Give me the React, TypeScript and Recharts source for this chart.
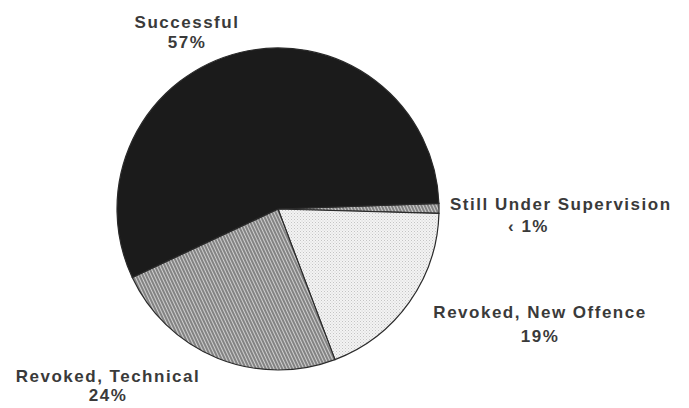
import { PieChart, Pie, Cell } from "recharts"

const categories = ["Still Under Supervision", "Revoked, New Offence", "Revoked, Technical", "Successful"]
const shares = [1, 19, 24, 57]
const shareLabels = ["‹ 1%", "19%", "24%", "57%"]

const fills = ["url(#hatch)", "url(#stipple)", "url(#hatch)", "#1b1b1b"]

// where each label sits, relative to the pie centre
const labelPos = [
  { x1: 172, y1: 1, x2: 230, y2: 23, anchor: "start" },
  { x1: 262, y1: 109, x2: 262, y2: 133, anchor: "middle" },
  { x1: -170, y1: 173, x2: -170, y2: 192, anchor: "middle" },
  { x1: -91, y1: -181, x2: -91, y2: -161, anchor: "middle" },
]

const data = categories.map((name, i) => ({ name, value: shares[i] }))

const renderLabel = (props: any) => {
  const { cx, cy, index } = props
  const p = labelPos[index]
  return (
    <text
      key={`lbl-${index}`}
      fill="#3a3a3a"
      fontFamily="'Liberation Sans', Arial, sans-serif"
      fontWeight="bold"
      fontSize={17}
      letterSpacing={1.5}
      textAnchor={p.anchor}
    >
      <tspan x={cx + p.x1} y={cy + p.y1}>{categories[index]}</tspan>
      <tspan x={cx + p.x2} y={cy + p.y2}>{shareLabels[index]}</tspan>
    </text>
  )
}

const App = () => {
  return (
    <div style={{ position: "absolute", left: 0, top: 0, background: "#fff" }}>
      <PieChart width={689} height={408} margin={{ top: 0, right: 0, bottom: 0, left: 0 }}>
        <defs>
          <pattern id="hatch" patternUnits="userSpaceOnUse" width={3} height={3} patternTransform="rotate(-25)">
            <rect width={3} height={3} fill="#cfcfcf" />
            <line x1={1} y1={0} x2={1} y2={3} stroke="#5a5a5a" strokeWidth={1.3} />
          </pattern>
          <pattern id="stipple" patternUnits="userSpaceOnUse" width={3} height={3}>
            <rect width={3} height={3} fill="#f3f3f3" />
            <rect x={0} y={0} width={1} height={1} fill="#c4c4c4" />
            <rect x={1.5} y={1.5} width={1} height={1} fill="#d2d2d2" />
          </pattern>
        </defs>
        <Pie
          data={data}
          dataKey="value"
          cx={278}
          cy={209}
          outerRadius={161}
          startAngle={2}
          endAngle={-358}
          stroke="#2a2a2a"
          strokeWidth={1.2}
          label={renderLabel}
          labelLine={false}
          isAnimationActive={false}
        >
          {data.map((entry, index) => (
            <Cell key={`cell-${index}`} fill={fills[index]} />
          ))}
        </Pie>
      </PieChart>
    </div>
  )
}

export default App
